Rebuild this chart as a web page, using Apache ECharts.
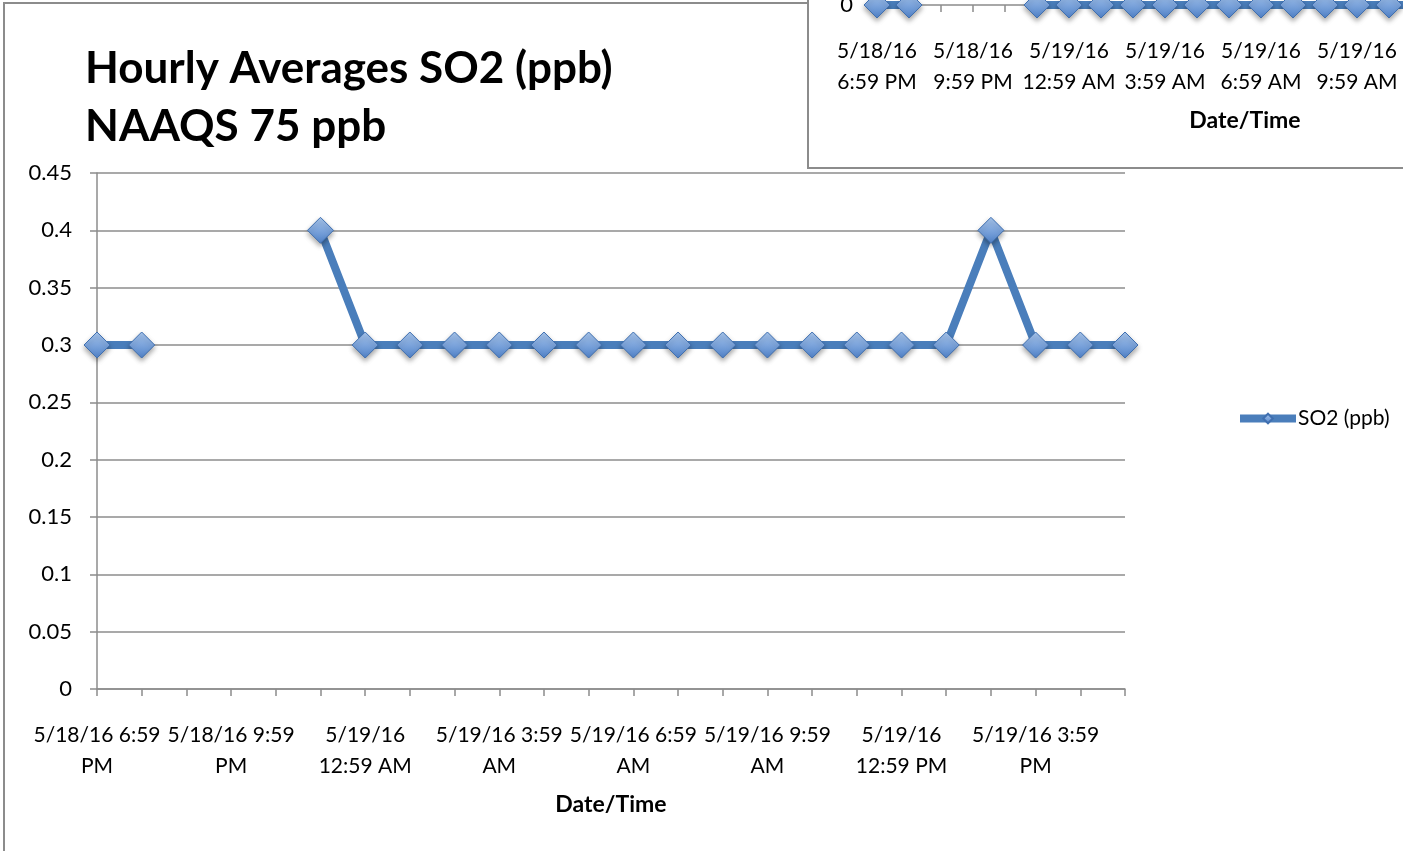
<!DOCTYPE html>
<html>
<head>
<meta charset="utf-8">
<script src="https://cdn.jsdelivr.net/npm/echarts@6/dist/echarts.min.js"></script>
<style>
html,body{margin:0;padding:0;background:#fff;}
#chart{width:1403px;height:851px;}
</style>
</head>
<body>
<div id="chart"></div>
<script>
const categories = [
  '5/18/16 6:59 PM','5/18/16 7:59 PM','5/18/16 8:59 PM','5/18/16 9:59 PM','5/18/16 10:59 PM','5/18/16 11:59 PM',
  '5/19/16 12:59 AM','5/19/16 1:59 AM','5/19/16 2:59 AM','5/19/16 3:59 AM','5/19/16 4:59 AM','5/19/16 5:59 AM',
  '5/19/16 6:59 AM','5/19/16 7:59 AM','5/19/16 8:59 AM','5/19/16 9:59 AM','5/19/16 10:59 AM','5/19/16 11:59 AM',
  '5/19/16 12:59 PM','5/19/16 1:59 PM','5/19/16 2:59 PM','5/19/16 3:59 PM','5/19/16 4:59 PM','5/19/16 5:59 PM'
];
const so2Values = [0.3,0.3,null,null,null,0.4,0.3,0.3,0.3,0.3,0.3,0.3,0.3,0.3,0.3,0.3,0.3,0.3,0.3,0.3,0.4,0.3,0.3,0.3];
const insetValues = [0,0,null,null,null,0,0,0,0,0,0,0,0,0,0,0,0,0,0,0,0,0,0,0];
const yTicks = { min: 0, max: 0.45, interval: 0.05 };
const titleText = 'Hourly Averages SO2 (ppb)\nNAAQS 75 ppb';
const seriesName = 'SO2 (ppb)';
const axisName = 'Date/Time';

const FONT = 'Lato';
const GRAY = '#8c8c8c';

function mainLabel(s) {
  const parts = s.split(' ');
  const date = parts[0], time = parts[1], ap = parts[2];
  if (time.split(':')[0].length === 2) return date + '\n' + time + ' ' + ap;
  return date + ' ' + time + '\n' + ap;
}
function insetLabel(s) {
  const parts = s.split(' ');
  return parts[0] + '\n' + parts[1] + ' ' + parts[2];
}

const markerStyle = {
  color: {
    type: 'linear', x: 0, y: 0, x2: 0, y2: 1,
    colorStops: [{ offset: 0, color: '#aac8ef' }, { offset: 1, color: '#4f81c8' }]
  },
  borderColor: '#3f6fb0',
  borderWidth: 1,
  shadowBlur: 5,
  shadowOffsetY: 3,
  shadowColor: 'rgba(0,0,0,0.35)'
};

function xAxisDef(gridIndex, fmt) {
  return {
    type: 'category', gridIndex: gridIndex, data: categories, boundaryGap: false,
    name: axisName, nameLocation: 'middle', nameGap: 104,
    nameTextStyle: { fontFamily: FONT, fontSize: 23, fontWeight: 'bold', color: '#000' },
    axisLine: { lineStyle: { color: GRAY, width: 1.5 } },
    axisTick: { show: true, interval: 0, length: 7, lineStyle: { color: GRAY, width: 1.5 } },
    axisLabel: { interval: 2, margin: 31, fontFamily: FONT, fontSize: 21, lineHeight: 31, color: '#000',
      formatter: fmt, hideOverlap: false },
    splitLine: { show: false }
  };
}

const chart = echarts.init(document.getElementById('chart'), null, { renderer: 'canvas' });
chart.setOption({
  animation: false,
  backgroundColor: '#fff',
  textStyle: { fontFamily: FONT },
  title: {
    text: titleText,
    left: 85, top: 40, padding: 0,
    textStyle: { fontFamily: FONT, fontSize: 44, fontWeight: 'bold', color: '#000', lineHeight: 58 }
  },
  legend: {
    data: [seriesName],
    left: 1236, top: 408, padding: 0,
    itemWidth: 56, itemHeight: 12, itemGap: 2,
    lineStyle: { width: 8 },
    textStyle: { fontFamily: FONT, fontSize: 21, color: '#000', padding: [0, 0, 0, -3] }
  },
  graphic: [
    { type: 'rect', z: -10, shape: { x: 4, y: 3, width: 1500, height: 900 },
      style: { fill: '#fff', stroke: GRAY, lineWidth: 2 } },
    { type: 'rect', z: -5, shape: { x: 808, y: -4, width: 700, height: 172 },
      style: { fill: '#fff', stroke: GRAY, lineWidth: 2 } }
  ],
  grid: [
    { left: 97, right: 278, top: 173, bottom: 162, containLabel: false, outerBoundsMode: 'none' },
    { left: 877, width: 736, top: -95, height: 100, containLabel: false, outerBoundsMode: 'none' }
  ],
  xAxis: [ xAxisDef(0, mainLabel), xAxisDef(1, insetLabel) ],
  yAxis: [
    {
      type: 'value', gridIndex: 0, min: yTicks.min, max: yTicks.max, interval: yTicks.interval,
      axisLine: { show: true, lineStyle: { color: GRAY, width: 1.5 } },
      axisTick: { show: true, length: 7, lineStyle: { color: GRAY, width: 1.5 } },
      axisLabel: { margin: 25, fontFamily: FONT, fontSize: 22, color: '#000',
        formatter: v => String(parseFloat(v.toFixed(2))) },
      splitLine: { show: true, lineStyle: { color: GRAY, width: 1.5 } }
    },
    {
      type: 'value', gridIndex: 1, min: 0, max: 1, interval: 1,
      axisLine: { show: true, lineStyle: { color: GRAY, width: 1.5 } },
      axisTick: { show: true, length: 7, lineStyle: { color: GRAY, width: 1.5 } },
      axisLabel: { margin: 24, fontFamily: FONT, fontSize: 22, color: '#000' },
      splitLine: { show: false }
    }
  ],
  series: [
    {
      name: seriesName, type: 'line', xAxisIndex: 0, yAxisIndex: 0,
      data: so2Values, connectNulls: false, showAllSymbol: true,
      symbol: 'diamond', symbolSize: 26,
      lineStyle: { color: '#4a7ebb', width: 8 },
      itemStyle: markerStyle,
      z: 3
    },
    {
      name: 'inset', type: 'line', xAxisIndex: 1, yAxisIndex: 1,
      data: insetValues, connectNulls: false, clip: false, showAllSymbol: true,
      symbol: 'diamond', symbolSize: 26,
      lineStyle: { color: '#4a7ebb', width: 8 },
      itemStyle: markerStyle,
      z: 3
    }
  ]
});
</script>
</body>
</html>
